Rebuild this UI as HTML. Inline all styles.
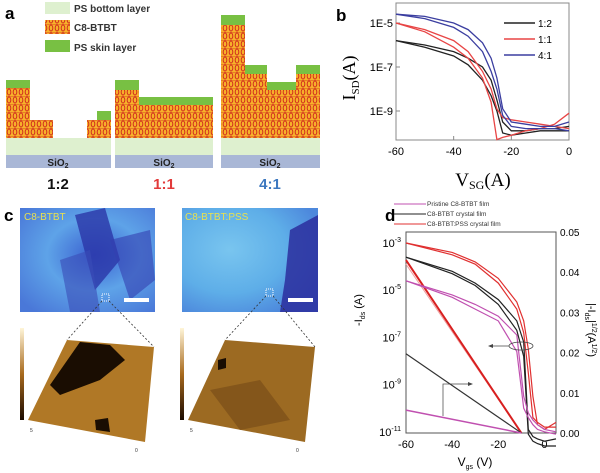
<!DOCTYPE html>
<html><head><meta charset="utf-8"><style>
html,body{margin:0;padding:0;background:#fff}
svg{display:block;font-family:"Liberation Sans",sans-serif}
</style></head><body>
<svg id="fig" width="600" height="473" viewBox="0 0 600 473" xmlns="http://www.w3.org/2000/svg">
<defs>
<pattern id="c8" width="6" height="8" patternUnits="userSpaceOnUse">
<rect width="6" height="8" fill="#f7b12a"/>
<ellipse cx="3" cy="4" rx="1.8" ry="3" fill="none" stroke="#d2301e" stroke-width="1"/>
<line x1="0" y1="0" x2="6" y2="0" stroke="#d2301e" stroke-width="0.8"/>
</pattern>
<linearGradient id="afmbar" x1="0" y1="1" x2="0" y2="0"><stop offset="0" stop-color="#1a0a00"/><stop offset="0.5" stop-color="#a86a1e"/><stop offset="1" stop-color="#fff5d8"/></linearGradient>
<radialGradient id="om1" cx="0.55" cy="0.45" r="0.7"><stop offset="0" stop-color="#3a5fd0"/><stop offset="0.5" stop-color="#5ea3e8"/><stop offset="1" stop-color="#4a78d8"/></radialGradient>
<radialGradient id="om2" cx="0.35" cy="0.4" r="0.7"><stop offset="0" stop-color="#79c5ef"/><stop offset="0.6" stop-color="#5eaee8"/><stop offset="1" stop-color="#4d88dc"/></radialGradient>
</defs>

<!-- Panel a -->
<g>
<text x="5" y="19" font-size="17" font-weight="bold">a</text>
<rect x="45" y="2" width="25" height="12" fill="#def0cf"/>
<text x="74" y="12" font-size="10" font-weight="bold" fill="#333">PS bottom layer</text>
<rect x="45" y="20" width="25" height="14" fill="url(#c8)"/>
<text x="74" y="31" font-size="10" font-weight="bold" fill="#333">C8-BTBT</text>
<rect x="45" y="40" width="25" height="12" fill="#78c043"/>
<text x="74" y="51" font-size="10" font-weight="bold" fill="#333">PS skin layer</text>
<g fill="#def0cf"><rect x="6" y="138" width="105" height="17"/><rect x="115" y="138" width="98" height="17"/><rect x="221" y="138" width="99" height="17"/></g>
<g fill="#a9b7d6"><rect x="6" y="155" width="105" height="13"/><rect x="115" y="155" width="98" height="13"/><rect x="221" y="155" width="99" height="13"/></g>
<g fill="url(#c8)">
<rect x="6" y="88" width="24" height="50"/><rect x="30" y="120" width="23" height="18"/><rect x="87" y="120" width="24" height="18"/>
<rect x="115" y="90" width="24" height="48"/><rect x="139" y="105" width="74" height="33"/>
<rect x="221" y="25" width="24" height="113"/><rect x="245" y="74" width="22" height="64"/><rect x="267" y="90" width="29" height="48"/><rect x="296" y="74" width="24" height="64"/>
</g>
<g fill="#78c043">
<rect x="6" y="80" width="24" height="8"/><rect x="97" y="111" width="14" height="9"/>
<rect x="115" y="80" width="24" height="10"/><rect x="139" y="97" width="74" height="8"/>
<rect x="221" y="15" width="24" height="10"/><rect x="245" y="65" width="22" height="9"/><rect x="267" y="82" width="29" height="8"/><rect x="296" y="65" width="24" height="9"/>
</g>
<g font-size="10" font-weight="bold" fill="#222" text-anchor="middle">
<text x="58" y="166">SiO<tspan font-size="7" dy="2">2</tspan></text>
<text x="164" y="166">SiO<tspan font-size="7" dy="2">2</tspan></text>
<text x="270" y="166">SiO<tspan font-size="7" dy="2">2</tspan></text>
</g>
<g font-size="15" font-weight="bold" text-anchor="middle">
<text x="58" y="189" fill="#111">1:2</text>
<text x="164" y="189" fill="#e23a3a">1:1</text>
<text x="270" y="189" fill="#3d78bf">4:1</text>
</g>
</g>

<!-- Panel b -->
<g>
<text x="336" y="21" font-size="17" font-weight="bold">b</text>
<rect x="396" y="3" width="173" height="137" fill="none" stroke="#888" stroke-width="1"/>
<g id="bTicks"></g>
<g id="bCurves"></g>
<text font-family="Liberation Serif,serif" font-size="18" text-anchor="middle" transform="translate(355,78) rotate(-90)">I<tspan font-size="11" dy="4">SD</tspan><tspan dy="-4">(A)</tspan></text>
<text x="483" y="186" font-family="Liberation Serif,serif" font-size="19" text-anchor="middle">V<tspan font-size="12" dy="3">SG</tspan><tspan dy="-3">(A)</tspan></text>
<g font-size="10">
<line x1="504" y1="23" x2="535" y2="23" stroke="#222" stroke-width="1.5"/><text x="538" y="27">1:2</text>
<line x1="504" y1="39" x2="535" y2="39" stroke="#e84545" stroke-width="1.5"/><text x="538" y="43">1:1</text>
<line x1="504" y1="55" x2="535" y2="55" stroke="#3b3ea0" stroke-width="1.5"/><text x="538" y="59">4:1</text>
</g>
</g>

<!-- Panel c -->
<g>
<text x="4" y="221" font-size="17" font-weight="bold">c</text>
<rect x="20" y="208" width="135" height="104" fill="url(#om1)"/>
<polygon points="75,215 105,208 120,260 95,290" fill="#2a36a8" opacity="0.8"/>
<polygon points="110,240 150,230 155,280 130,300" fill="#3340b0" opacity="0.6"/>
<polygon points="60,260 90,250 100,312 70,312" fill="#3b4cb8" opacity="0.6"/>
<rect x="124" y="298" width="25" height="4" fill="#fff"/>
<text x="24" y="220" font-size="10" fill="#e8e050">C8-BTBT</text>
<rect x="182" y="208" width="136" height="104" fill="url(#om2)"/>
<polygon points="290,230 318,215 318,312 280,312 285,280" fill="#2c2e9e" opacity="0.85"/>
<rect x="288" y="298" width="25" height="4" fill="#fff"/>
<text x="185" y="220" font-size="10" fill="#e8e050">C8-BTBT:PSS</text>
<rect x="102" y="294" width="7" height="7" fill="none" stroke="#fff" stroke-dasharray="1,1"/>
<rect x="266" y="289" width="7" height="7" fill="none" stroke="#fff" stroke-dasharray="1,1"/>
<g stroke="#333" stroke-dasharray="2,2" stroke-width="0.8">
<line x1="102" y1="301" x2="67" y2="340"/><line x1="109" y1="301" x2="154" y2="347"/>
<line x1="266" y1="296" x2="225" y2="340"/><line x1="273" y1="296" x2="315" y2="347"/>
</g>
<rect x="20" y="328" width="4" height="92" fill="url(#afmbar)"/>
<rect x="180" y="328" width="4" height="92" fill="url(#afmbar)"/>
<polygon points="67,340 154,347 145,442 28,420" fill="#b07826"/>
<polygon points="80,342 110,345 125,360 100,380 60,395 50,385" fill="#1a0d02"/>
<polygon points="95,420 108,418 110,432 96,430" fill="#1a0d02"/>
<polygon points="225,340 315,347 305,442 188,420" fill="#9c6a22"/>
<polygon points="210,390 260,380 290,420 240,430" fill="#7a4e18" opacity="0.7"/>
<polygon points="218,360 226,358 226,368 218,370" fill="#1a0d02"/>
<g font-size="5" fill="#333"><text x="30" y="432">5</text><text x="135" y="452">0</text><text x="190" y="432">5</text><text x="296" y="452">0</text></g>
</g>

<!-- Panel d -->
<g>
<text x="385" y="221" font-size="17" font-weight="bold">d</text>
<g font-size="6.5" fill="#333">
<line x1="394" y1="204" x2="426" y2="204" stroke="#c050b0" stroke-width="1"/><text x="427" y="206">Pristine C8-BTBT  film</text>
<line x1="394" y1="214" x2="426" y2="214" stroke="#222" stroke-width="1"/><text x="427" y="216">C8-BTBT crystal film</text>
<line x1="394" y1="224" x2="426" y2="224" stroke="#e03030" stroke-width="1"/><text x="427" y="226">C8-BTBT:PSS crystal film</text>
</g>
<rect x="406" y="232" width="150" height="201" fill="none" stroke="#555" stroke-width="1"/>
<g id="dTicks"></g>
<g id="dCurves"></g>
<text font-size="11" text-anchor="middle" transform="translate(362,310) rotate(-90)">-I<tspan font-size="7" dy="3">ds</tspan><tspan dy="-3"> (A)</tspan></text>
<text font-size="11" text-anchor="middle" transform="translate(588,330) rotate(90)">|-I<tspan font-size="7" dy="3">ds</tspan><tspan dy="-3">|</tspan><tspan font-size="7" dy="-4">1/2</tspan><tspan dy="4">(A</tspan><tspan font-size="7" dy="-4">1/2</tspan><tspan dy="4">)</tspan></text>
<text x="475" y="466" font-size="12" text-anchor="middle">V<tspan font-size="7" dy="3">gs</tspan><tspan dy="-3"> (V)</tspan></text>
<ellipse cx="521" cy="346" rx="12" ry="4" fill="none" stroke="#444" stroke-width="0.8"/>
<line x1="509" y1="346" x2="491" y2="346" stroke="#444" stroke-width="0.8"/>
<polygon points="488,346 493,344 493,348" fill="#444"/>
<polyline points="448,384 443,384 443,416" fill="none" stroke="#555" stroke-width="0.8"/>
<line x1="448" y1="384" x2="470" y2="384" stroke="#444" stroke-width="0.8"/>
<polygon points="473,384 468,382 468,386" fill="#444"/>
</g>

<script>
// Panel b data (log10 I)
const bXTicks = [-60, -40, -20, 0];
const bYTicks = [-5, -7, -9];
const bV = [-60, -50, -40, -35, -30, -27, -25, -23, -20, -15, -10, -5, 0];
const b12a = [-5.8, -6.1, -6.5, -6.9, -7.6, -8.3, -9.0, -10.0, -10.1, -10.0, -9.9, -9.9, -9.9];
const b12b = [-5.8, -6.0, -6.3, -6.6, -7.0, -7.6, -8.5, -9.5, -9.9, -9.9, -9.8, -9.8, -9.7];
const b11a = [-5.0, -5.4, -6.1, -6.6, -7.5, -8.6, -10.3, -10.2, -10.1, -9.9, -9.8, -9.6, -9.1];
const b11b = [-5.0, -5.3, -5.8, -6.3, -7.2, -8.0, -8.9, -9.3, -9.4, -9.5, -9.6, -9.7, -9.8];
const b41a = [-4.6, -4.8, -5.2, -5.6, -6.3, -7.2, -8.0, -9.2, -9.7, -9.8, -9.8, -9.8, -9.9];
const b41b = [-4.6, -4.7, -5.0, -5.3, -5.9, -6.6, -7.5, -8.9, -9.5, -9.6, -9.7, -9.7, -9.5];

// Panel d data
const dXTicks = [-60, -40, -20, 0];
const dYTicks = [-3, -5, -7, -9, -11];
const dRTicks = ["0.00", "0.01", "0.02", "0.03", "0.04", "0.05"];
const dV = [-60, -40, -30, -20, -12, -9, -7, -5, -3, 0, 5];
const dRedA = [-3.0, -3.4, -3.8, -4.5, -5.5, -6.3, -7.5, -9.5, -10.7, -10.9, -10.6];
const dRedB = [-3.0, -3.5, -3.9, -4.7, -5.8, -6.8, -8.5, -10.4, -10.6, -10.8, -10.8];
const dBlkA = [-3.6, -4.2, -4.7, -5.4, -6.3, -7.2, -10.9, -11.2, -11.3, -11.4, -11.3];
const dBlkB = [-3.6, -4.3, -4.8, -5.6, -6.7, -7.8, -11.1, -11.4, -11.5, -11.6, -11.6];
const dPnkA = [-4.6, -5.2, -5.6, -6.1, -6.9, -9.5, -10.2, -10.5, -10.7, -10.9, -11.0];
const dPnkB = [-4.6, -5.3, -5.8, -6.3, -7.6, -10.0, -10.4, -10.7, -10.9, -11.0, -11.1];
const sqV = [-60, -10];
const sqRed = [0.043, 0.0];
const sqRedL = [0.042, 0.0];
const sqBlk = [0.0197, 0.0];
const sqPnk = [0.0057, 0.0];

const NS = "http://www.w3.org/2000/svg";
function mk(tag, parent) { const e = document.createElementNS(NS, tag); parent.appendChild(e); return e; }
const bx = v => 396 + (v + 60) * 173 / 60;
const by = l => 23 + (-5 - l) * 22;
const dx = v => 406 + (v + 60) * 150 / 65;
const dy = l => 243 + (-3 - l) * 23.6;
const dyr = s => 433 - s * 4020;

const bT = document.getElementById('bTicks');
bXTicks.forEach(v => {
  const t = mk('text', bT); t.setAttribute('x', bx(v)); t.setAttribute('y', 155); t.setAttribute('font-size', 11); t.setAttribute('text-anchor', 'middle'); t.textContent = v;
  
  
  const l = mk('line', bT); l.setAttribute('x1', bx(v)); l.setAttribute('x2', bx(v)); l.setAttribute('y1', 140); l.setAttribute('y2', 136); l.setAttribute('stroke', '#888');
});
bYTicks.forEach(v => {
  const t = mk('text', bT); t.setAttribute('x', 393); t.setAttribute('y', by(v) + 4); t.setAttribute('font-size', 11); t.setAttribute('text-anchor', 'end'); t.textContent = '1E' + v;
  
  
  const l = mk('line', bT); l.setAttribute('x1', 396); l.setAttribute('x2', 400); l.setAttribute('y1', by(v)); l.setAttribute('y2', by(v)); l.setAttribute('stroke', '#888');
});
function curve(parent, xs, ys, fx, fy, color, w, name) {
  const p = mk('path', parent);
  p.setAttribute('d', xs.map((x, i) => (i ? 'L' : 'M') + fx(x).toFixed(1) + ',' + fy(ys[i]).toFixed(1)).join(''));
  p.setAttribute('fill', 'none'); p.setAttribute('stroke', color); p.setAttribute('stroke-width', w);
  
  
}
const bC = document.getElementById('bCurves');
curve(bC, bV, b12a, bx, by, '#222', 1.3, 'series-1-2-forward');
curve(bC, bV, b12b, bx, by, '#222', 1.3, 'series-1-2-reverse');
curve(bC, bV, b11a, bx, by, '#e84545', 1.3, 'series-1-1-forward');
curve(bC, bV, b11b, bx, by, '#e84545', 1.3, 'series-1-1-reverse');
curve(bC, bV, b41a, bx, by, '#3b3ea0', 1.3, 'series-4-1-forward');
curve(bC, bV, b41b, bx, by, '#3b3ea0', 1.3, 'series-4-1-reverse');

const dT = document.getElementById('dTicks');
dXTicks.forEach(v => {
  const t = mk('text', dT); t.setAttribute('x', dx(v)); t.setAttribute('y', 448); t.setAttribute('font-size', 11); t.setAttribute('text-anchor', 'middle'); t.textContent = v;
  
  
});
dYTicks.forEach(v => {
  const t = mk('text', dT); t.setAttribute('x', 401); t.setAttribute('y', dy(v) + 4); t.setAttribute('font-size', 11); t.setAttribute('text-anchor', 'end');
  
  
  t.appendChild(document.createTextNode('10'));
  const s = mk('tspan', t); s.setAttribute('font-size', 7); s.setAttribute('dy', -5); s.textContent = v;
});
dRTicks.forEach(s => {
  const t = mk('text', dT); t.setAttribute('x', 560); t.setAttribute('y', dyr(+s) + 4); t.setAttribute('font-size', 10); t.textContent = s;
  
  
});
const dC = document.getElementById('dCurves');
curve(dC, sqV, sqRedL, dx, dyr, '#f0a0a0', 1, 'sqrt-pss-light');
curve(dC, sqV, sqRed, dx, dyr, '#d82020', 2, 'sqrt-pss');
curve(dC, sqV, sqBlk, dx, dyr, '#333', 1.2, 'sqrt-crystal');
curve(dC, sqV, sqPnk, dx, dyr, '#c050b0', 1.5, 'sqrt-pristine');
curve(dC, dV, dRedA, dx, dy, '#e03030', 1.2, 'log-pss-forward');
curve(dC, dV, dRedB, dx, dy, '#e03030', 1.2, 'log-pss-reverse');
curve(dC, dV, dBlkA, dx, dy, '#222', 1.2, 'log-crystal-forward');
curve(dC, dV, dBlkB, dx, dy, '#222', 1.2, 'log-crystal-reverse');
curve(dC, dV, dPnkA, dx, dy, '#c050b0', 1.2, 'log-pristine-forward');
curve(dC, dV, dPnkB, dx, dy, '#c050b0', 1.2, 'log-pristine-reverse');
</script>
</svg>
</body></html>
